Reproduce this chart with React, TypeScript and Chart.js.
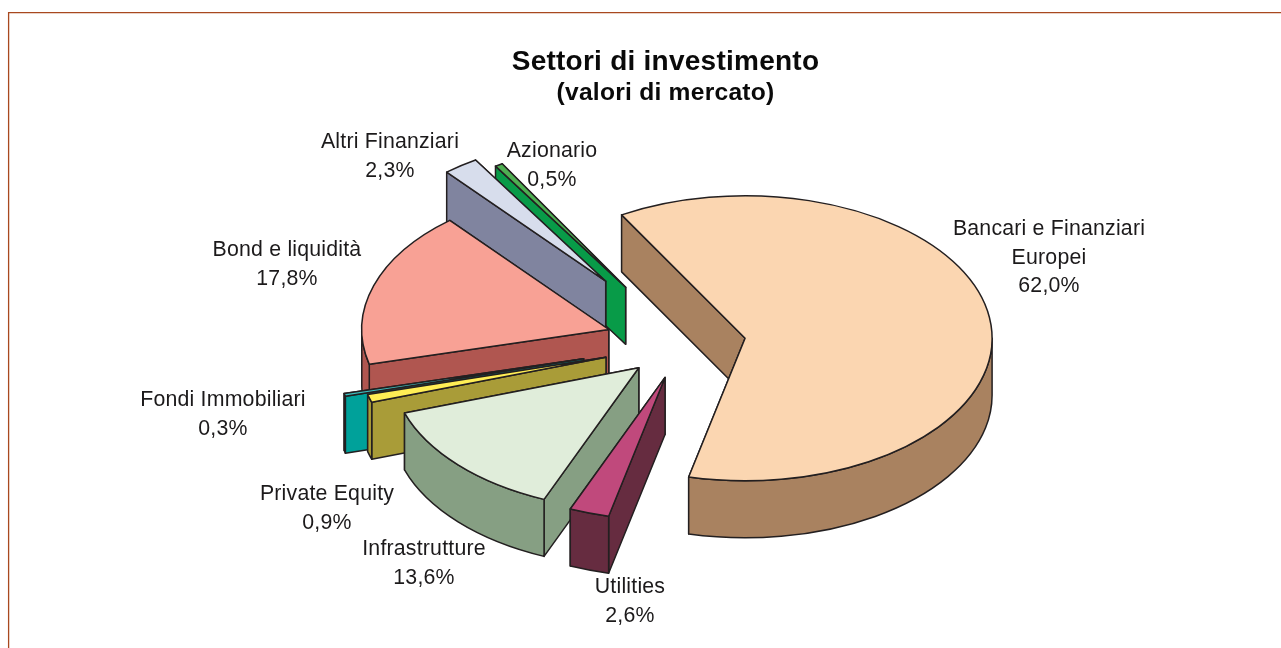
import React, { useEffect, useRef } from "react";
import { Chart, registerables } from "chart.js";

Chart.register(...registerables);

const categories: string[][] = [
  ["Bancari e Finanziari", "Europei"],
  ["Utilities"],
  ["Infrastrutture"],
  ["Private Equity"],
  ["Fondi Immobiliari"],
  ["Bond e liquidità"],
  ["Altri Finanziari"],
  ["Azionario"],
];
const shares = [62.0, 2.6, 13.6, 0.9, 0.3, 17.8, 2.3, 0.5];
const topColors = ["#FBD6B1", "#C0497C", "#E0EDDA", "#FFEE55", "#3DBDBD", "#F8A195", "#D7DDEC", "#4FAF52"];
const wallColors = ["#A98260", "#662C40", "#869F83", "#A99C38", "#00A19A", "#B05650", "#80849F", "#089B48"];
const explosion = [0.25, 0.25, 0.25, 0.33, 0.42, 0.32, 0.54, 0.46];
const paintOrder = [7, 6, 5, 4, 3, 2, 1, 0];
const labelAnchors: [number, number][] = [
  [1049, 229], [630, 587], [424, 549], [327, 494], [223, 400], [287, 250], [390, 142], [552, 151],
];

const ROTATION = -30;
const RADIUS = 247;
const SQUASH = 0.577;
const DEPTH = 57;
const CENTER = { x: 684, y: 343.5 };
const LINE = "#231f20";
const FONT = '"Liberation Sans", Arial, sans-serif';

const pie3d = {
  id: "pie3d",
  beforeDraw(chart: any) {
    const c = chart.ctx;
    c.save();
    c.strokeStyle = "#a8481f";
    c.lineWidth = 1.3;
    c.beginPath();
    c.moveTo(8.6, 648);
    c.lineTo(8.6, 12.6);
    c.lineTo(1281, 12.6);
    c.stroke();
    c.restore();
    c.letterSpacing = "0.25px";
  },
  beforeDatasetDraw(chart: any) {
    const c = chart.ctx;
    const arcs = chart.getDatasetMeta(0).data;
    c.save();
    c.lineWidth = 1.5;
    c.lineJoin = "round";
    c.strokeStyle = LINE;
    for (const i of paintOrder) {
      const arc = arcs[i];
      const a0 = arc.startAngle;
      const a1 = arc.endAngle;
      const mid = (a0 + a1) / 2;
      const rx = arc.outerRadius;
      const ry = rx * SQUASH;
      const ax = CENTER.x + explosion[i] * rx * Math.cos(mid);
      const ay = CENTER.y + explosion[i] * ry * Math.sin(mid);
      const px = (t: number) => ax + rx * Math.cos(t);
      const py = (t: number) => ay + ry * Math.sin(t);

      // radial walls, the one further back first
      const ends = [a0, a1].sort((p, q) => py(p) - py(q));
      for (const t of ends) {
        c.beginPath();
        c.moveTo(ax, ay);
        c.lineTo(px(t), py(t));
        c.lineTo(px(t), py(t) + DEPTH);
        c.lineTo(ax, ay + DEPTH);
        c.closePath();
        c.fillStyle = wallColors[i];
        c.fill();
        c.stroke();
      }

      // outer curved wall, only where it faces the viewer
      for (const k of [-2, 0, 2]) {
        const s = Math.max(a0, k * Math.PI);
        const e = Math.min(a1, (k + 1) * Math.PI);
        if (e <= s) continue;
        c.beginPath();
        c.ellipse(ax, ay, rx, ry, 0, s, e);
        c.ellipse(ax, ay + DEPTH, rx, ry, 0, e, s, true);
        c.closePath();
        c.fillStyle = wallColors[i];
        c.fill();
        c.stroke();
      }

      // top face
      c.beginPath();
      c.moveTo(ax, ay);
      c.ellipse(ax, ay, rx, ry, 0, a0, a1);
      c.closePath();
      c.fillStyle = arc.options.backgroundColor;
      c.fill();
      c.stroke();
    }
    c.restore();
    return false;
  },
  afterDatasetsDraw(chart: any) {
    const c = chart.ctx;
    c.save();
    c.fillStyle = "#1c1a1b";
    c.font = `21.3px ${FONT}`;
    c.letterSpacing = "0.2px";
    c.textAlign = "center";
    c.textBaseline = "middle";
    categories.forEach((lines, i) => {
      const [x, y] = labelAnchors[i];
      const text = [...lines, shares[i].toFixed(1).replace(".", ",") + "%"];
      text.forEach((t, n) => c.fillText(t, x, y + n * 28.7));
    });
    c.restore();
  },
};

export default function App() {
  const ref = useRef<HTMLCanvasElement>(null);
  useEffect(() => {
    const chart = new Chart(ref.current as HTMLCanvasElement, {
      type: "pie",
      data: {
        labels: categories.map((l) => l.join(" ")),
        datasets: [{ data: shares, backgroundColor: topColors, borderWidth: 0 }],
      },
      options: {
        responsive: false,
        animation: false,
        rotation: ROTATION,
        radius: RADIUS,
        layout: { padding: { top: 45, left: 50 } },
        plugins: {
          legend: { display: false },
          tooltip: { enabled: false },
          title: {
            display: true,
            text: "Settori di investimento",
            color: "#0a0a0a",
            font: { family: FONT, size: 28, weight: "bold" },
            padding: { top: 0, bottom: 0 },
          },
          subtitle: {
            display: true,
            text: "(valori di mercato)",
            color: "#0a0a0a",
            font: { family: FONT, size: 24.6, weight: "bold" },
            padding: { top: 0, bottom: 0 },
          },
        },
      },
      plugins: [pie3d],
    } as any);
    return () => chart.destroy();
  }, []);
  return (
    <div style={{ position: "fixed", left: 0, top: 0, background: "#fff" }}>
      <canvas ref={ref} width={1281} height={648} style={{ display: "block" }} />
    </div>
  );
}
